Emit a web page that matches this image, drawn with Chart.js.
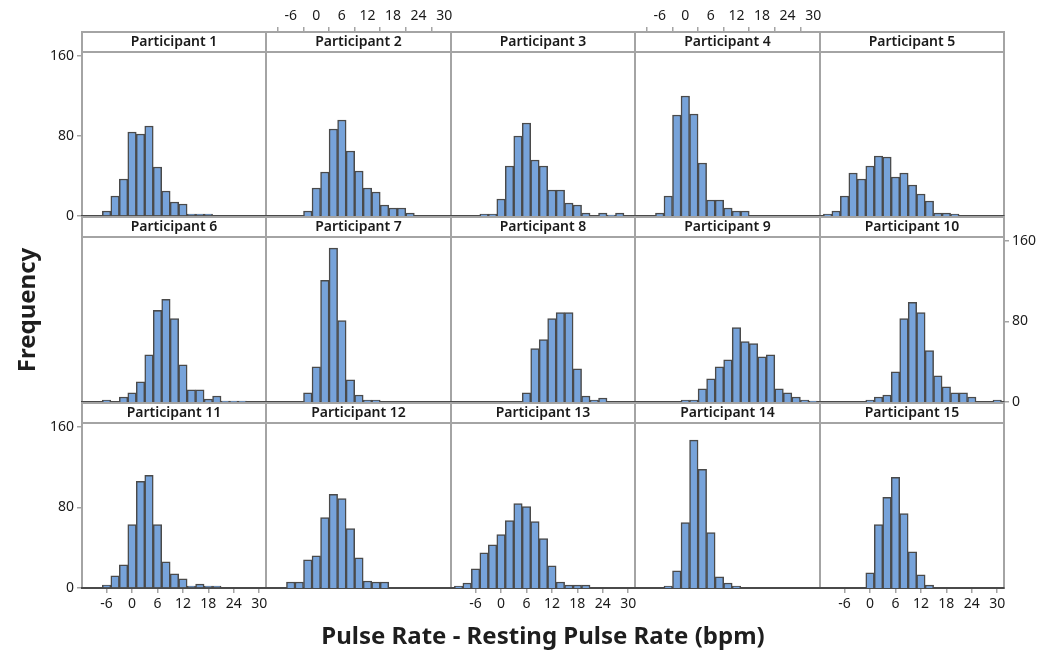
<!DOCTYPE html>
<html>
<head>
<meta charset="utf-8">
<script src="https://cdn.jsdelivr.net/npm/chart.js@4.4.0/dist/chart.umd.min.js"></script>
<style>
  body { margin: 0; background: #fff; width: 1047px; height: 650px; position: relative; overflow: hidden; font-family: "Noto Sans", sans-serif; }
  canvas.panel { position: absolute; }
  .axis-title { position: absolute; font-size: 24px; font-weight: 700; color: #1e1e1e; white-space: nowrap; }
  #ytitle { left: 25px; top: 310px; transform: translate(-50%, -50%) rotate(-90deg); }
  #xtitle { left: 543px; top: 634px; transform: translate(-50%, -50%); }
</style>
</head>
<body>
<div id="grid"></div>
<div class="axis-title" id="ytitle">Frequency</div>
<div class="axis-title" id="xtitle">Pulse Rate - Resting Pulse Rate (bpm)</div>
<script>
// histogram bin centres (2 bpm wide)
const bins = [-10, -8, -6, -4, -2, 0, 2, 4, 6, 8, 10, 12, 14, 16, 18, 20, 22, 24, 26, 28, 30];
const xTicks = [-6, 0, 6, 12, 18, 24, 30];
const yTicks = [0, 80, 160];

// counts per bin, one array per participant
const participant1  = [0, 0, 5, 20, 37, 84, 82, 90, 49, 25, 14, 12, 2, 2, 2, 0, 0, 0, 0, 0, 0];
const participant2  = [0, 0, 0, 0, 5, 28, 44, 87, 96, 65, 45, 28, 24, 11, 8, 8, 3, 0, 0, 0, 0];
const participant3  = [0, 0, 0, 2, 2, 17, 50, 80, 93, 56, 50, 26, 26, 13, 11, 3, 0, 3, 1, 3, 0];
const participant4  = [0, 0, 3, 20, 101, 120, 102, 53, 16, 16, 8, 5, 5, 0, 0, 0, 0, 0, 0, 0, 0];
const participant5  = [2, 5, 20, 43, 37, 50, 60, 59, 39, 43, 31, 22, 15, 3, 3, 2, 0, 0, 0, 0, 0];
const participant6  = [0, 0, 2, 0, 5, 9, 20, 47, 91, 102, 83, 37, 12, 12, 3, 6, 1, 1, 1, 0, 0];
const participant7  = [0, 0, 0, 0, 9, 35, 121, 153, 81, 22, 7, 2, 2, 0, 0, 0, 0, 0, 0, 0, 0];
const participant8  = [0, 0, 0, 0, 0, 0, 0, 0, 9, 53, 62, 83, 89, 89, 33, 6, 2, 4, 0, 0, 0];
const participant9  = [0, 0, 0, 0, 0, 2, 2, 13, 23, 35, 42, 74, 60, 58, 45, 47, 13, 9, 5, 2, 1];
const participant10 = [0, 0, 0, 0, 0, 2, 5, 7, 30, 83, 99, 89, 51, 26, 15, 9, 9, 5, 0, 0, 2];
const participant11 = [0, 0, 3, 12, 23, 63, 106, 112, 63, 26, 14, 9, 2, 4, 2, 2, 0, 0, 0, 0, 0];
const participant12 = [0, 0, 6, 6, 28, 32, 70, 93, 89, 59, 30, 7, 6, 6, 0, 0, 0, 0, 0, 0, 0];
const participant13 = [2, 5, 19, 35, 43, 53, 67, 84, 81, 66, 49, 22, 6, 3, 3, 3, 0, 0, 0, 0, 0];
const participant14 = [0, 0, 0, 2, 17, 65, 147, 118, 55, 11, 5, 2, 0, 0, 0, 0, 0, 0, 0, 0, 0];
const participant15 = [0, 0, 0, 0, 0, 15, 63, 90, 110, 74, 36, 13, 3, 0, 0, 0, 0, 0, 0, 0, 0];

const participants = [
  participant1, participant2, participant3, participant4, participant5,
  participant6, participant7, participant8, participant9, participant10,
  participant11, participant12, participant13, participant14, participant15
];

const X_MIN = -11.8, X_MAX = 31.6;
const Y_MAX = 164;

// panel grid on the page
const colEdges = [82, 266, 451, 635, 820, 1004];
const rowTops = [32, 217, 403];
const plotHeights = [164, 165, 165];
const STRIP = 20;
const MX = 40, MY = 30;

// which outer axes carry labels (JMP alternates them)
const topAxis = [1, 3];
const leftAxis = [0, 10];
const rightAxis = [9];
const bottomAxis = [10, 12, 14];

const FONT = "'Noto Sans', sans-serif";
const FRAME = '#a4a4a4';

const panelFrame = {
  id: 'panelFrame',
  beforeDraw(chart) {
    const a = chart.chartArea;
    const t = chart.titleBlock;
    const ctx = chart.ctx;
    ctx.save();
    ctx.strokeStyle = FRAME;
    ctx.lineWidth = 2;
    ctx.strokeRect(a.left, t.top, a.right - a.left, a.bottom - t.top);
    ctx.beginPath();
    ctx.moveTo(a.left, a.top);
    ctx.lineTo(a.right, a.top);
    ctx.stroke();
    ctx.restore();
  }
};

function tickStyle(show) {
  return {
    display: show,
    color: '#1a1a1a',
    font: { family: FONT, size: 14 },
    padding: 3,
    maxRotation: 0,
    autoSkip: false
  };
}

function gridStyle(show) {
  return {
    display: show,
    drawOnChartArea: false,
    drawTicks: true,
    tickLength: 5,
    color: FRAME,
    lineWidth: 1.5
  };
}

function setXTicks(scale) {
  scale.ticks = xTicks.map(v => ({ value: v }));
}

function setYTicks(scale) {
  scale.ticks = yTicks.map(v => ({ value: v }));
}

const grid = document.getElementById('grid');

participants.forEach((counts, i) => {
  const col = i % 5;
  const row = Math.floor(i / 5);
  const w = colEdges[col + 1] - colEdges[col] + 2 * MX;
  const h = MY + STRIP + plotHeights[row] + MY;

  const canvas = document.createElement('canvas');
  canvas.className = 'panel';
  canvas.width = w;
  canvas.height = h;
  canvas.style.left = (colEdges[col] - MX) + 'px';
  canvas.style.top = (rowTops[row] - MY) + 'px';
  canvas.style.width = w + 'px';
  canvas.style.height = h + 'px';
  grid.appendChild(canvas);

  const showTop = topAxis.includes(i);
  const showBottom = bottomAxis.includes(i);
  const showLeft = leftAxis.includes(i);
  const showRight = rightAxis.includes(i);

  new Chart(canvas, {
    type: 'bar',
    data: {
      datasets: [{
        data: bins.map((b, k) => ({ x: b, y: counts[k] })),
        backgroundColor: '#77a3da',
        borderColor: '#4a4a4a',
        borderWidth: 1.5,
        barPercentage: 1,
        categoryPercentage: 1
      }]
    },
    options: {
      responsive: false,
      animation: false,
      layout: { padding: 0 },
      plugins: {
        legend: { display: false },
        tooltip: { enabled: false },
        title: {
          display: true,
          text: 'Participant ' + (i + 1),
          position: 'top',
          fullSize: false,
          color: '#1a1a1a',
          font: { family: FONT, size: 14, weight: '600', lineHeight: '20px' },
          padding: 0
        }
      },
      scales: {
        x: {
          type: 'linear',
          position: 'bottom',
          min: X_MIN,
          max: X_MAX,
          offset: false,
          afterFit: s => { s.height = MY; },
          afterBuildTicks: setXTicks,
          grid: Object.assign(gridStyle(showBottom), { offset: false }),
          border: { display: true, color: '#4a4a4a', width: 2 },
          ticks: tickStyle(showBottom)
        },
        x2: {
          type: 'linear',
          position: 'top',
          weight: 3000,
          min: X_MIN,
          max: X_MAX,
          offset: false,
          afterFit: s => { s.height = MY; },
          afterBuildTicks: setXTicks,
          grid: gridStyle(showTop),
          border: { display: false },
          ticks: tickStyle(showTop)
        },
        y: {
          type: 'linear',
          position: 'left',
          min: 0,
          max: Y_MAX,
          afterFit: s => { s.width = MX; },
          afterBuildTicks: setYTicks,
          grid: gridStyle(showLeft),
          border: { display: false },
          ticks: tickStyle(showLeft)
        },
        y2: {
          type: 'linear',
          position: 'right',
          min: 0,
          max: Y_MAX,
          afterFit: s => { s.width = MX; },
          afterBuildTicks: setYTicks,
          grid: gridStyle(showRight),
          border: { display: false },
          ticks: tickStyle(showRight)
        }
      }
    },
    plugins: [panelFrame]
  });
});
</script>
</body>
</html>
